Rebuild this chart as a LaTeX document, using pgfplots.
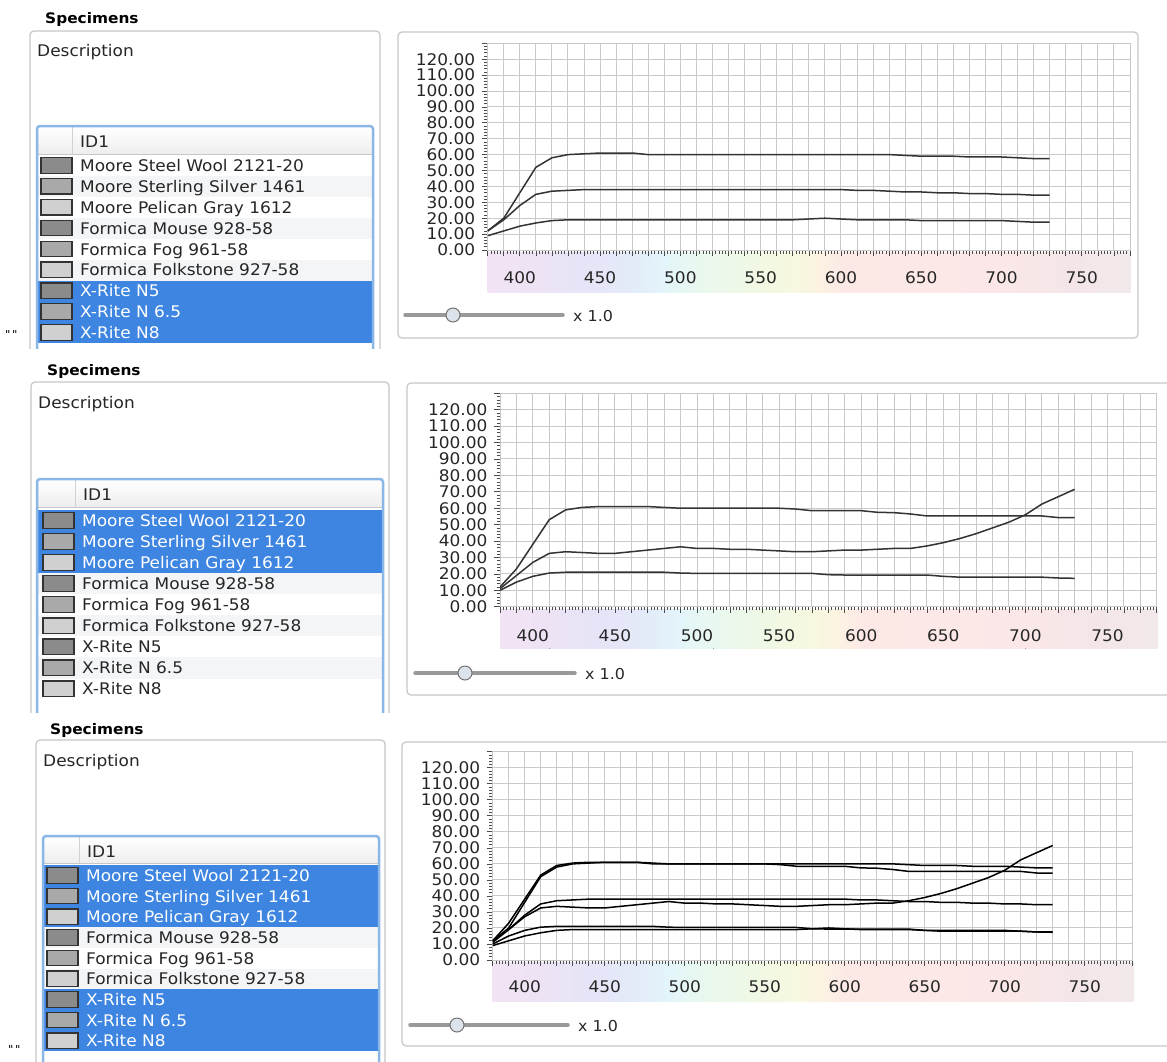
\documentclass[border=0pt]{standalone}
\usepackage{fontspec}
\setmainfont{DejaVu Sans}[FakeStretch=1.06]
\usepackage{pgfplots}
\usepackage{pgfplotstable}
\pgfplotsset{compat=1.18}

\definecolor{selblue}{HTML}{3D85E0}
\definecolor{gridc}{HTML}{C9C9C9}
\definecolor{boxc}{HTML}{C6C6C6}
\definecolor{ringc}{HTML}{8AB6E8}
\definecolor{rowalt}{HTML}{F4F5F7}
\definecolor{swA}{HTML}{8B8B8B}
\definecolor{swB}{HTML}{A9A9A9}
\definecolor{swC}{HTML}{D0D0D0}
\definecolor{knob}{HTML}{DDE3EA}
% pastel spectrum under the x axis
\definecolor{spA}{HTML}{F1E3F3}
\definecolor{spB}{HTML}{EDE3F5}
\definecolor{spC}{HTML}{E6E4F7}
\definecolor{spD}{HTML}{E3EBF9}
\definecolor{spE}{HTML}{E3F5FA}
\definecolor{spF}{HTML}{E9F8EF}
\definecolor{spG}{HTML}{EEF8E5}
\definecolor{spH}{HTML}{F7F8DF}
\definecolor{spI}{HTML}{FCF3E1}
\definecolor{spJ}{HTML}{FCE9E6}
\definecolor{spK}{HTML}{FBE7E7}
\definecolor{spL}{HTML}{F4E6E8}
\definecolor{spM}{HTML}{F1E8EA}

% reflectance curves, 10 nm steps
\pgfplotstableread{
nm v
380 10
390 15
400 18.5
410 20.5
420 21
430 21
440 21
450 21
460 21
470 21
480 21
490 20.5
500 20.3
510 20.3
520 20.3
530 20.3
540 20.3
550 20.3
560 20.3
570 20.3
580 19.5
590 19.3
600 19.3
610 19.3
620 19.3
630 19.3
640 19.3
650 18.5
660 18
670 18
680 18
690 18
700 18
710 18
720 17.5
730 17.3
}\tSteel
\pgfplotstableread{
nm v
380 11
390 19
400 27
410 32.5
420 33.5
430 33
440 32.5
450 32.5
460 33.5
470 34.5
480 35.5
490 36.5
500 35.5
510 35.5
520 35
530 35
540 34.5
550 34
560 33.5
570 33.5
580 34
590 34.5
600 34.5
610 35
620 35.5
630 35.5
640 37
650 39
660 41.5
670 44.5
680 48
690 51.5
700 56
710 62.5
720 67
730 71.5
}\tSilver
\pgfplotstableread{
nm v
380 12
390 23
400 38
410 53
420 59
430 60.5
440 61
450 61
460 61
470 61
480 60.5
490 60
500 60
510 60
520 60
530 60
540 60
550 60
560 59.5
570 58.5
580 58.5
590 58.5
600 58.5
610 57.5
620 57.3
630 56.5
640 55.3
650 55.3
660 55.3
670 55.3
680 55.3
690 55.3
700 55.3
710 55.3
720 54.3
730 54.3
}\tPelican
\pgfplotstableread{
nm v
380 9
390 12
400 15
410 17
420 18.5
430 19
440 19
450 19
460 19
470 19
480 19
490 19
500 19
510 19
520 19
530 19
540 19
550 19
560 19
570 19
580 19.5
590 20
600 19.5
610 19
620 19
630 19
640 19
650 18.5
660 18.5
670 18.5
680 18.5
690 18.5
700 18.5
710 18
720 17.5
730 17.5
}\tNfive
\pgfplotstableread{
nm v
380 12
390 19
400 28
410 35
420 37
430 37.5
440 38
450 38
460 38
470 38
480 38
490 38
500 38
510 38
520 38
530 38
540 38
550 38
560 38
570 38
580 38
590 38
600 38
610 37.5
620 37.5
630 37
640 36.5
650 36.5
660 36
670 36
680 35.5
690 35.5
700 35
710 35
720 34.5
730 34.5
}\tNsix
\pgfplotstableread{
nm v
380 12
390 20
400 36
410 52
420 58
430 60
440 60.5
450 61
460 61
470 61
480 60
490 60
500 60
510 60
520 60
530 60
540 60
550 60
560 60
570 60
580 60
590 60
600 60
610 60
620 60
630 60
640 59.5
650 59
660 59
670 59
680 58.5
690 58.5
700 58.5
710 58
720 57.5
730 57.5
}\tNeight

\pgfplotsset{spec/.style={
  scale only axis, anchor=south west,
  xmin=380, xmax=780, ymin=0, ymax=130,
  xtick={380,390,...,780},
  xticklabels={,,400,,,,,450,,,,,500,,,,,550,,,,,600,,,,,650,,,,,700,,,,,750,,,},
  ytick={0,10,...,130},
  yticklabels={0.00,10.00,20.00,30.00,40.00,50.00,60.00,70.00,80.00,90.00,100.00,110.00,120.00,},
  minor x tick num=4, minor y tick num=4,
  tick align=outside, tick pos=left,
  major tick length=6pt, minor tick length=3.5pt,
  tick style={draw=black!70, line width=0.7pt},
  grid=major, major grid style={draw=gridc, line width=1pt},
  axis line style={draw=gridc, line width=1pt},
  tick label style={font=\fontsize{16}{16}\selectfont, text=black!85},
  yticklabel style={xshift=-3pt},
  xticklabel style={anchor=center},
}, curve/.style={draw=black!80, line width=1.5pt, no markers, solid}}

\newcommand\ui{\fontsize{16}{19}\selectfont}

% spectrum strip: left, right, top, bottom (px)
\newcommand\strip[4]{%
  \foreach \a/\b/\ca/\cb in {380/410/spA/spB,410/440/spB/spC,440/470/spC/spD,470/490/spD/spE,490/510/spE/spF,510/540/spF/spG,540/570/spG/spH,570/585/spH/spI,585/600/spI/spJ,600/700/spJ/spK,700/740/spK/spL,740/780/spL/spM}{
    \pgfmathsetmacro\xa{#1+(\a-380)/400*(#2-#1)}
    \pgfmathsetmacro\xb{#1+(\b-380)/400*(#2-#1)+0.6}
    \fill[left color=\ca, right color=\cb] (\xa,#3) rectangle (\xb,#4);
  }}

% specimen rows: list left, right, swatch x, first row centre, sel 1-3, sel 7-9, row step
\newcommand\speclist[7]{%
  \foreach \i/\nm/\sw in {1/Moore Steel Wool 2121-20/swA,2/Moore Sterling Silver 1461/swB,3/Moore Pelican Gray 1612/swC,4/Formica Mouse 928-58/swA,5/Formica Fog 961-58/swB,6/Formica Folkstone 927-58/swC,7/X-Rite N5/swA,8/X-Rite N 6.5/swB,9/X-Rite N8/swC}{
    \pgfmathsetmacro\yc{#4+#7*(\i-1)}
    \pgfmathtruncatemacro\sel{((\i<4)&&(#5==1))||((\i>6)&&(#6==1))}
    \ifnum\sel=1
      \fill[selblue] (#1,\yc-#7/2) rectangle (#2,\yc+#7/2);
      \def\tc{white}
    \else
      \ifodd\i\else\fill[rowalt] (#1,\yc-#7/2) rectangle (#2,\yc+#7/2);\fi
      \def\tc{black!85}
    \fi
    \filldraw[fill=\sw, draw=black!80, line width=1.2] (#3,\yc-8) rectangle ++(31,15.5);
    \node[anchor=base west, inner sep=0, text=\tc, font=\ui] at (#3+39,\yc+5.8) {\nm};
  }}

% list header: left, right, top, bottom, separator x
\newcommand\listhead[5]{%
  \shade[top color=white, bottom color=black!7] (#1,#3) rectangle (#2,#4);
  \draw[black!22] (#1,#4) -- (#2,#4);
  \draw[black!18] (#5,#3) -- (#5,#4);
  \node[anchor=base west, inner sep=0, font=\ui, text=black!85] at (#5+8,#3+20.5) {ID1};}

% slider: x0, x1, knob x, y
\newcommand\slider[4]{%
  \draw[line width=3.5, line cap=round, black!40] (#1,#4) -- (#2,#4);
  \filldraw[fill=knob, draw=black!55, line width=1] (#3,#4) circle (7);
  \node[anchor=base west, inner sep=0, font=\fontsize{15}{18}\selectfont, text=black!85] at (#2+10,#4+6) {x 1.0};}

\begin{document}
\begin{tikzpicture}
\useasboundingbox (0,0) rectangle (1167pt,-1061pt);
\begin{scope}[x=1pt, y=-1pt]
  % ---------- panel 1 ----------
  \begin{scope}
    \clip (0,0) rectangle (1167,348);
    \node[anchor=base west, inner sep=0, font=\fontsize{14.5}{17}\selectfont\bfseries] at (45,23.5) {Specimens};
    \filldraw[fill=white, draw=boxc, line width=1.2, rounded corners=4] (30,31) rectangle (380,420);
    \node[anchor=base west, inner sep=0, font=\ui, text=black!85] at (37,56) {Description};
    \fill[white] (38,127) rectangle (372,420);
    \listhead{38}{372}{127}{154.5}{72}
    \speclist{38}{372}{41}{165.7}{0}{1}{20.875}
    \draw[ringc, line width=2.5, rounded corners=3] (37,126) rectangle (373,420);
    \node[anchor=base west, inner sep=0, font=\fontsize{11}{12}\selectfont] at (5,338) {\textquotedbl\,\textquotedbl};
    \draw[boxc, line width=1.2, rounded corners=4] (398,32) rectangle (1138,338);
    \strip{487.7}{1130}{252.7}{292}
    \slider{405}{563}{453}{315}
  \end{scope}
  % ---------- panel 2 ----------
  \begin{scope}
    \clip (0,350) rectangle (1167,712);
    \node[anchor=base west, inner sep=0, font=\fontsize{14.5}{17}\selectfont\bfseries] at (47,375.5) {Specimens};
    \filldraw[fill=white, draw=boxc, line width=1.2, rounded corners=4] (31,382) rectangle (389,780);
    \node[anchor=base west, inner sep=0, font=\ui, text=black!85] at (38,408.5) {Description};
    \fill[white] (38,480) rectangle (382,780);
    \listhead{38}{382}{480}{507}{75}
    \speclist{38}{382}{43}{520.7}{1}{0}{21.04}
    \draw[ringc, line width=2.5, rounded corners=3] (37,479) rectangle (383,780);
    \draw[boxc, line width=1.2, rounded corners=4] (407,383) rectangle (1180,695);
    \strip{500}{1156.7}{609.5}{648.5}
    \slider{415}{575}{465}{673}
  \end{scope}
  % ---------- panel 3 ----------
  \begin{scope}
    \clip (0,715) rectangle (1167,1061);
    \node[anchor=base west, inner sep=0, font=\fontsize{14.5}{17}\selectfont\bfseries] at (50,734.5) {Specimens};
    \filldraw[fill=white, draw=boxc, line width=1.2, rounded corners=4] (36,740) rectangle (385,1120);
    \node[anchor=base west, inner sep=0, font=\ui, text=black!85] at (43,766) {Description};
    \fill[white] (44,837) rectangle (378,1120);
    \listhead{44}{378}{837}{863}{79}
    \speclist{44}{378}{47}{875.7}{1}{1}{20.66}
    \draw[ringc, line width=2.5, rounded corners=3] (43,836) rectangle (379,1120);
    \node[anchor=base west, inner sep=0, font=\fontsize{11}{12}\selectfont] at (8,1053) {\textquotedbl\,\textquotedbl};
    \draw[boxc, line width=1.2, rounded corners=4] (402,742) rectangle (1180,1046);
    \strip{492.7}{1132.7}{962.7}{1001.7}
    \slider{410}{568}{457}{1025}
  \end{scope}
\end{scope}

\begin{axis}[spec, at={(487.7pt,-250pt)}, width=642.3pt, height=206.7pt,
  xticklabel style={yshift=-22pt}]
  \addplot[curve] table[x=nm, y=v] {\tNfive};
  \addplot[curve] table[x=nm, y=v] {\tNsix};
  \addplot[curve] table[x=nm, y=v] {\tNeight};
\end{axis}

\begin{axis}[spec, at={(500pt,-606.7pt)}, width=656.7pt, height=213.4pt,
  xticklabel style={yshift=-23pt}]
  \addplot[curve] table[x=nm, y=v] {\tSteel};
  \addplot[curve] table[x=nm, y=v] {\tSilver};
  \addplot[curve] table[x=nm, y=v] {\tPelican};
\end{axis}

\begin{axis}[spec, at={(492.7pt,-960pt)}, width=640pt, height=208.3pt,
  xticklabel style={yshift=-21pt}]
  \addplot[curve, draw=black] table[x=nm, y=v] {\tSteel};
  \addplot[curve, draw=black] table[x=nm, y=v] {\tSilver};
  \addplot[curve, draw=black] table[x=nm, y=v] {\tPelican};
  \addplot[curve, draw=black] table[x=nm, y=v] {\tNfive};
  \addplot[curve, draw=black] table[x=nm, y=v] {\tNsix};
  \addplot[curve, draw=black] table[x=nm, y=v] {\tNeight};
\end{axis}
\end{tikzpicture}
\end{document}
